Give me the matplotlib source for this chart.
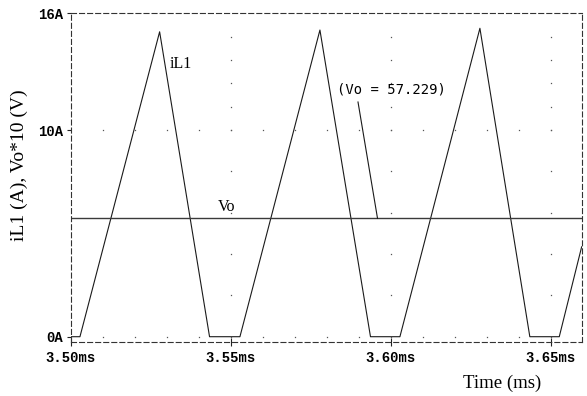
import numpy as np
import matplotlib
matplotlib.use("Agg")
import matplotlib.pyplot as plt

# inductor current iL1 (A)
t_il = [3.500, 3.5029, 3.5278, 3.5434, 3.5529, 3.5779, 3.5937, 3.6029, 3.6279, 3.6435, 3.6527, 3.6597]
il = [0, 0, 15.05, 0, 0, 15.14, 0, 0, 15.23, 0, 0, 4.35]

# output voltage (scaled)
t_vo = [3.500, 3.6597]
vo = [5.7229, 5.7229]

xticks = [3.50, 3.55, 3.60, 3.65]
xticklabels = ["3.50ms", "3.55ms", "3.60ms", "3.65ms"]
yticks = [0, 10, 16]
yticklabels = ["0A", "10A", "16A"]
x_minor = [3.51, 3.52, 3.53, 3.54, 3.55, 3.56, 3.57, 3.58, 3.59, 3.60, 3.61, 3.62, 3.63, 3.64, 3.65]
y_minor = [2, 4, 6, 8, 10, 11.2, 12.4, 13.6, 14.8]

plt.rcParams['lines.scale_dashes'] = False

# the upper part of the original y axis is a bit squeezed
k = 0.941
def fwd(y):
    y = np.asarray(y, dtype=float)
    return np.where(y > 10, 10 + (y - 10) * k, y)
def inv(z):
    z = np.asarray(z, dtype=float)
    return np.where(z > 10, 10 + (z - 10) / k, z)

fig = plt.figure(figsize=(5.87, 3.96), dpi=100)
ax = fig.add_axes([0.1204, 0.1371, 0.8705, 0.8293])
ax.set_yscale('function', functions=(fwd, inv))

ax.plot(t_il, il, color='#1a1a1a', lw=0.8)
ax.plot(t_vo, vo, color='#3a3a3a', lw=1.0)

# dotted grid like the simulator draws it
for yy in [0, 10]:
    ax.plot(x_minor, [yy] * len(x_minor), ls='none', marker='s', ms=0.9, mew=0, color='#555555')
for xx in xticks[1:]:
    ax.plot([xx] * len(y_minor), y_minor, ls='none', marker='s', ms=0.9, mew=0, color='#555555')

ax.set_xlim(3.50, 3.6597)
ax.set_ylim(-0.242, 16)

ax.set_xticks(xticks)
ax.set_xticklabels(xticklabels)
ax.set_yticks(yticks)
ax.set_yticklabels(yticklabels)
ax.minorticks_off()
for lab in ax.get_xticklabels() + ax.get_yticklabels():
    lab.set_family('Liberation Mono')
    lab.set_weight('bold')
    lab.set_fontsize(10)
ax.tick_params(axis='x', direction='inout', length=6, width=0.8, pad=4, color='#222222')
ax.tick_params(axis='y', direction='out', length=3, width=0.8, pad=2.5, color='#222222')

for side in ['top', 'bottom', 'left', 'right']:
    ax.spines[side].set_linestyle((0, (3.6, 2.2)))
    ax.spines[side].set_linewidth(0.8)
    ax.spines[side].set_color('#333333')

# labels
ax.text(3.5309, 13.39, "iL1", family='Liberation Serif', fontsize=11.5, va='center', ha='left')
ax.text(3.5460, 6.27, "Vo", family='Liberation Serif', fontsize=11.5, va='center', ha='left')
ax.text(3.5832, 12.06, "(Vo = 57.229)", family='DejaVu Sans Mono', fontsize=10, va='center', ha='left')
ax.plot([3.5898, 3.5959], [11.44, vo[0]], color='#1a1a1a', lw=0.8)

fig.text(19 / 587, 1 - 165 / 396, "iL1 (A), Vo*10 (V)", family='Liberation Serif', fontsize=14,
         rotation=90, ha='center', va='center')
fig.text(502 / 587, 1 - 383 / 396, "Time (ms)", family='Liberation Serif', fontsize=13.5, ha='center', va='center')

fig.savefig("out.png", dpi=100)
